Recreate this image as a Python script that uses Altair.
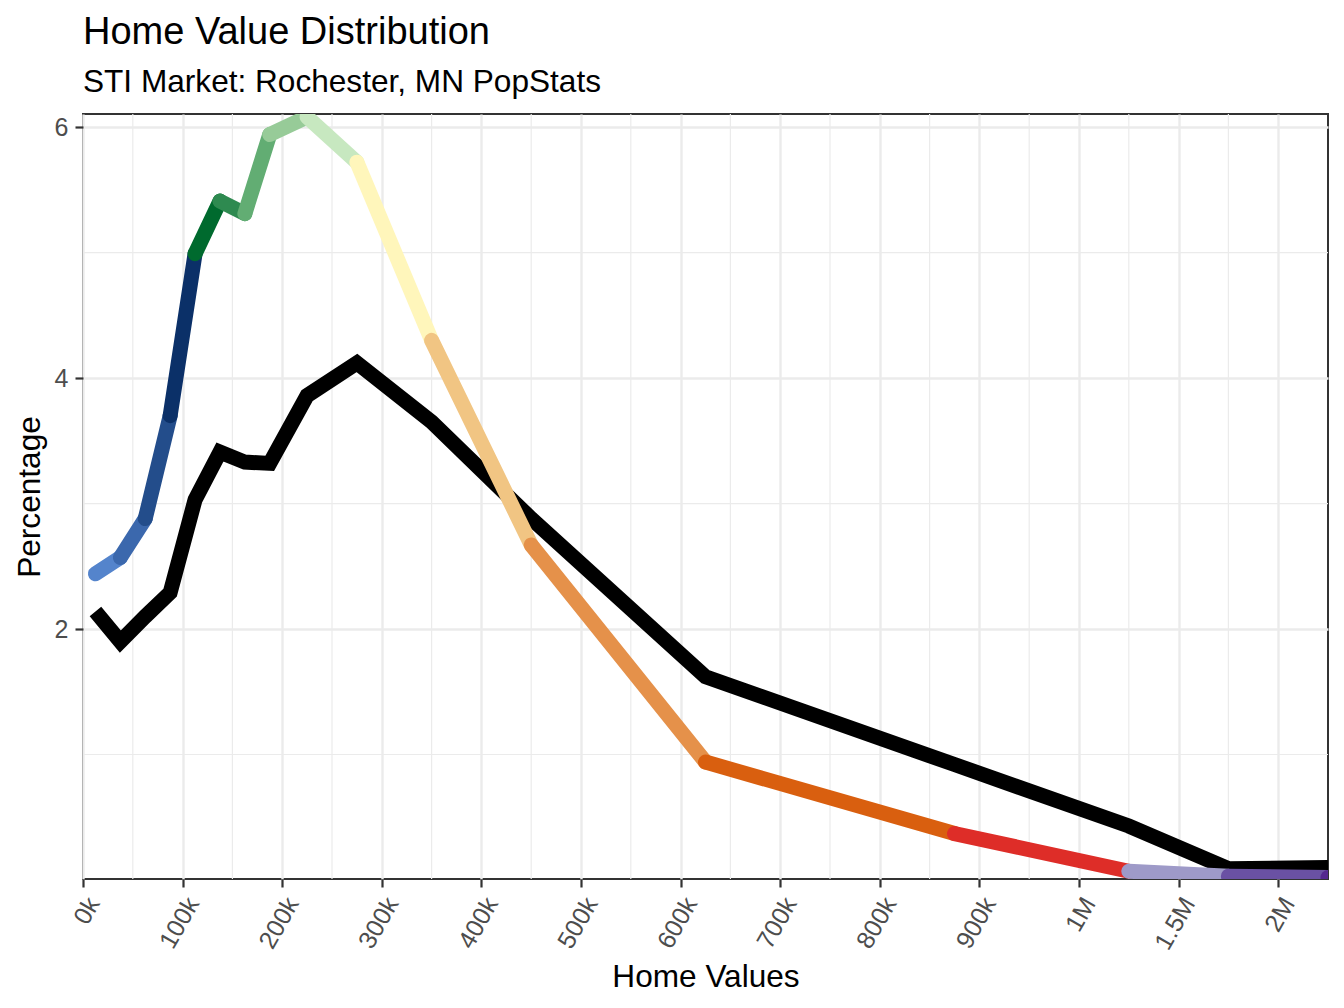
import altair as alt
import pandas as pd

# ---- data ----
bin_mid = [12500, 37500, 62500, 87500, 112500, 137500, 162500, 187500, 225000,
           275000, 350000, 450000, 625000, 875000, 1250000, 1750000, 2250000]
market_pct = [2.44, 2.57, 2.88, 3.70, 4.99, 5.41, 5.31, 5.94, 6.08,
              5.72, 4.30, 2.67, 0.94, 0.37, 0.07, 0.03, 0.02]
bench_pct = [2.14, 1.90, 2.10, 2.29, 3.03, 3.41, 3.33, 3.32, 3.86,
             4.12, 3.65, 2.88, 1.62, 0.92, 0.43, 0.09, 0.10]
seg_colors = ["#5484cc", "#3b68ad", "#234d8b", "#0b3068", "#006a2e", "#2e8a50",
              "#62ad73", "#97cb98", "#c7e8c0", "#fff6bb", "#f1c583", "#e5914a",
              "#d95f0f", "#de2d28", "#9e9ac8", "#6a51a3", "#54278f"]
tick_values = [0, 100000, 200000, 300000, 400000, 500000, 600000, 700000,
               800000, 900000, 1000000, 1500000, 2000000]
tick_labels = ["0k", "100k", "200k", "300k", "400k", "500k", "600k", "700k",
               "800k", "900k", "1M", "1.5M", "2M"]
minor_x = [50000, 150000, 250000, 350000, 450000, 550000, 650000, 750000,
           850000, 950000, 1250000, 1750000]
y_major = [2, 4, 6]
y_minor = [1, 3, 5]
x_max_value = 2250000
y_domain = [0.008, 6.104]

FONT = "Liberation Sans"


def pos(v):
    return v / 1000 if v <= 1000000 else 1000 + (v - 1000000) / 5000


POS_EXPR = "datum.v <= 1000000 ? datum.v / 1000 : 1000 + (datum.v - 1000000) / 5000"

tick_pos = [pos(v) for v in tick_values]
label_expr = "[" + ",".join("'%s'" % t for t in tick_labels) + "][indexof(" + \
    "[" + ",".join(str(p) for p in tick_pos) + "], datum.value)]"

xscale = alt.Scale(domain=[0, pos(x_max_value)], nice=False, zero=False)
yscale = alt.Scale(domain=y_domain, nice=False, zero=False)

xaxis = alt.Axis(values=tick_pos, labelExpr=label_expr, title="Home Values",
                 labelAngle=300, labelAlign="right", labelBaseline="middle",
                 labelOffset=10, labelPadding=12, titlePadding=8)
yaxis = alt.Axis(values=y_major, title="Percentage", labelPadding=7, titlePadding=8)

X = alt.X("x:Q", scale=xscale, axis=xaxis)
Y = alt.Y("y:Q", scale=yscale, axis=yaxis)

# minor grid
minor_x_df = pd.DataFrame({"v": minor_x})
minor_x_layer = alt.Chart(minor_x_df).transform_calculate(x=POS_EXPR).mark_rule(
    color="#ebebeb", strokeWidth=1.2).encode(x=X)
minor_y_df = pd.DataFrame({"y": y_minor})
minor_y_layer = alt.Chart(minor_y_df).mark_rule(
    color="#ebebeb", strokeWidth=1.2).encode(y=Y)

# benchmark black line
bench_df = pd.DataFrame({"v": bin_mid, "y": bench_pct})
bench_layer = alt.Chart(bench_df).transform_calculate(x=POS_EXPR).mark_line(
    color="black", strokeWidth=15, strokeJoin="miter", strokeCap="butt", clip=True
).encode(x=X, y=Y)

# colored market segments
rows = []
n = len(bin_mid)
for i in range(n):
    j = min(i + 1, n - 1)
    sid = "s%02d" % i
    rows.append({"seg": sid, "ord": 0, "v": bin_mid[i], "y": market_pct[i]})
    rows.append({"seg": sid, "ord": 1, "v": bin_mid[j], "y": market_pct[j]})
seg_df = pd.DataFrame(rows)
seg_ids = ["s%02d" % i for i in range(n)]
seg_layer = alt.Chart(seg_df).transform_calculate(x=POS_EXPR).mark_line(
    strokeWidth=15, strokeCap="round", strokeJoin="round", clip=True
).encode(
    x=X, y=Y,
    color=alt.Color("seg:N", scale=alt.Scale(domain=seg_ids, range=seg_colors), legend=None),
    detail="seg:N",
    order="ord:Q",
)

chart = alt.layer(minor_x_layer, minor_y_layer, bench_layer, seg_layer).properties(
    width=1245, height=765,
    title=alt.Title("Home Value Distribution",
                    subtitle="STI Market: Rochester, MN PopStats",
                    anchor="start", frame="group", font=FONT, fontSize=38,
                    fontWeight="normal", color="black", subtitleFont=FONT,
                    subtitleFontSize=31.6, subtitleColor="black",
                    subtitlePadding=15, offset=15),
    autosize=alt.AutoSizeParams(type="none"),
    padding={"left": 75, "top": 106, "right": 8, "bottom": 121},
).configure_view(
    stroke="#333333", strokeWidth=2
).configure_axis(
    domain=False, grid=True, gridColor="#ebebeb", gridWidth=2.4,
    tickColor="#333333", tickWidth=2.2, tickSize=8,
    labelFont=FONT, labelFontSize=25, labelColor="#4d4d4d",
    titleFont=FONT, titleFontSize=31.6, titleFontWeight="normal", titleColor="black",
)

chart.save("out.html", embed_options={"renderer": "svg", "actions": False})
